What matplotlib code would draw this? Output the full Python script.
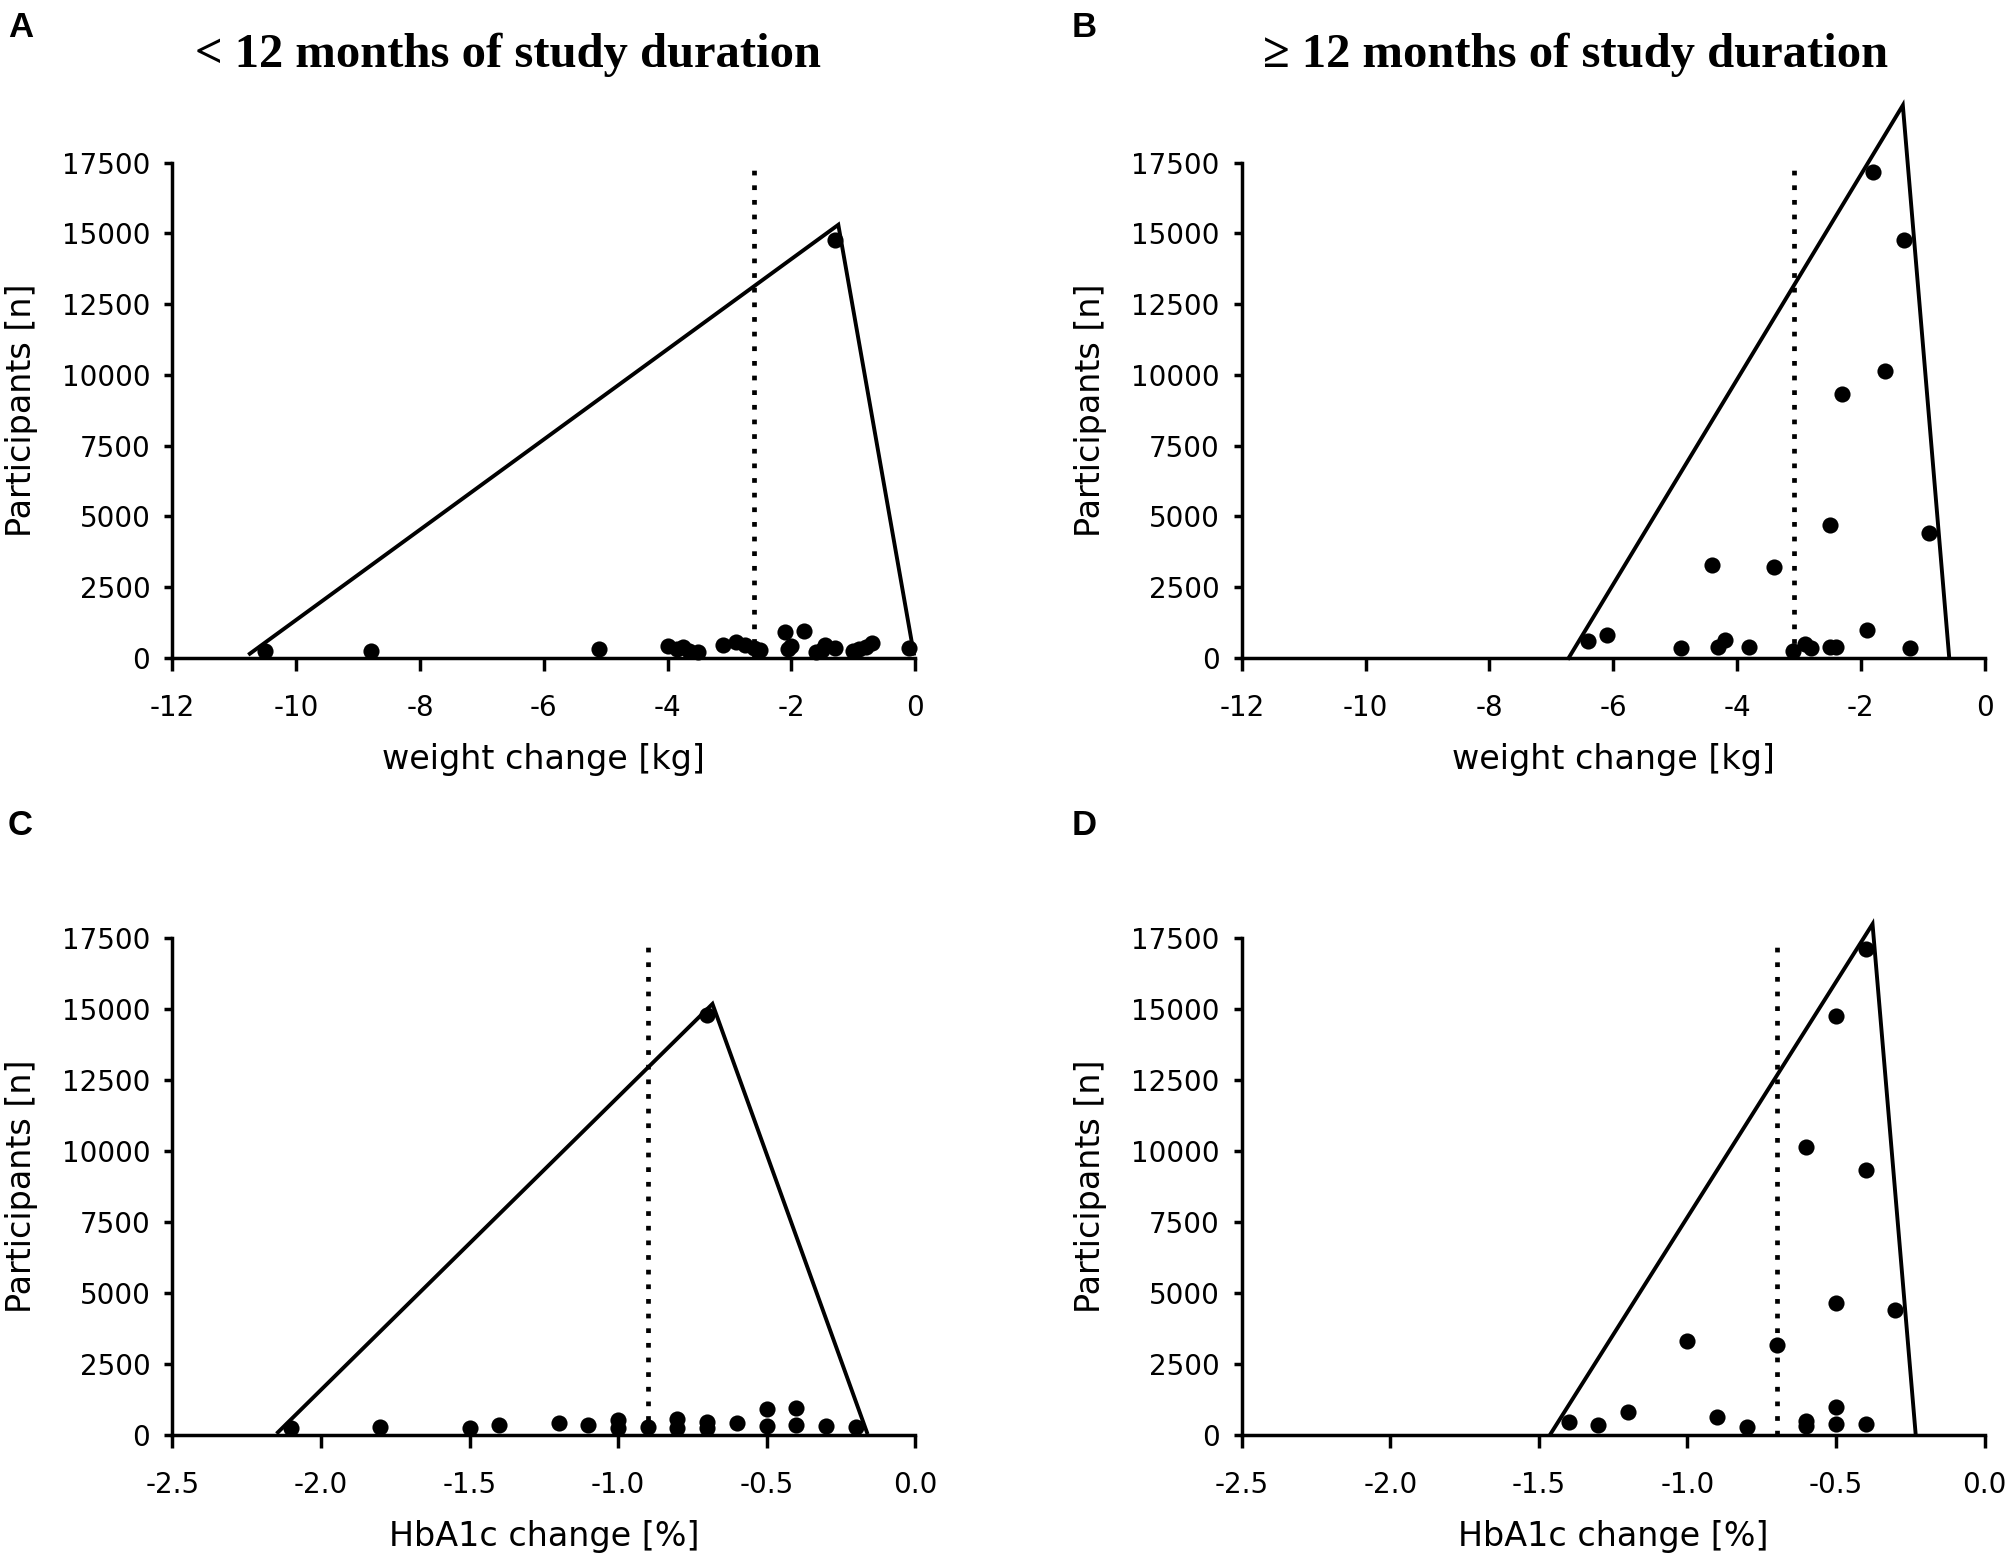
import matplotlib
matplotlib.use('Agg')
import matplotlib.pyplot as plt

# ---------------- data ----------------
# Panel A: weight change, < 12 months
xA = [-10.5, -8.8, -5.1, -4.0, -3.85, -3.75, -3.65, -3.5, -3.1, -2.9, -2.75, -2.6, -2.5,
      -2.1, -2.05, -2.0, -1.8, -1.6, -1.5, -1.45, -1.3, -1.3, -1.0, -0.9, -0.8, -0.7, -0.1]
yA = [250, 250, 300, 420, 300, 380, 250, 220, 450, 550, 450, 350, 280,
      900, 300, 420, 950, 220, 280, 450, 350, 14750, 250, 320, 400, 520, 350]
funnelA_x = [-10.75, -1.24, -0.02]
funnelA_y = [150, 15300, 150]
meanA = -2.6

# Panel B: weight change, >= 12 months
xB = [-1.8, -1.3, -1.6, -2.3, -2.5, -0.9, -4.4, -3.4, -6.4, -6.1, -4.9, -4.3, -4.2, -3.8,
      -3.1, -2.9, -2.8, -2.5, -2.4, -1.9, -1.2]
yB = [17150, 14750, 10130, 9340, 4690, 4420, 3280, 3200, 610, 820, 350, 390, 650, 400,
      260, 490, 350, 390, 390, 970, 350]
funnelB_x = [-6.72, -1.32, -0.57]
funnelB_y = [0, 19520, 0]
meanB = -3.08

# Panel C: HbA1c change, < 12 months
xC = [-2.1, -1.8, -1.5, -1.4, -1.2, -1.1, -1.0, -1.0, -0.9, -0.8, -0.8, -0.7, -0.7, -0.7,
      -0.6, -0.5, -0.5, -0.4, -0.4, -0.3, -0.2]
yC = [230, 280, 250, 350, 430, 350, 530, 240, 290, 550, 240, 470, 240, 14770,
      410, 900, 320, 960, 350, 320, 290]
funnelC_x = [-2.145, -0.682, -0.162]
funnelC_y = [90, 15170, 90]
meanC = -0.9

# Panel D: HbA1c change, >= 12 months
xD = [-0.4, -0.5, -0.6, -0.4, -0.5, -0.3, -1.0, -0.7, -1.4, -1.3, -1.2, -0.9, -0.8,
      -0.6, -0.6, -0.5, -0.5, -0.4]
yD = [17110, 14730, 10130, 9340, 4640, 4410, 3310, 3170, 440, 350, 790, 620, 260,
      490, 320, 970, 370, 370]
funnelD_x = [-1.46, -0.377, -0.232]
funnelD_y = [50, 17980, 50]
meanD = -0.7

y_ticks = [0, 2500, 5000, 7500, 10000, 12500, 15000, 17500]
weight_ticks = [-12, -10, -8, -6, -4, -2, 0]
weight_ticklabels = ['-12', '-10', '-8', '-6', '-4', '-2', '0']
hba_ticks = [-2.5, -2.0, -1.5, -1.0, -0.5, 0.0]
hba_ticklabels = ['-2.5', '-2.0', '-1.5', '-1.0', '-0.5', '0.0']

# ---------------- style ----------------
plt.rcParams['axes.unicode_minus'] = False
plt.rcParams['font.family'] = ['DejaVu Sans']

fig = plt.figure(figsize=(20.08, 15.61), dpi=100)
LW_AX = 2.5
LW_FUN = 2.8


def panel(rect, xs, ys, fx, fy, mean, xlim, xticks, xticklabels, xlabel):
    ax = fig.add_axes(rect)
    ax.plot(fx, fy, color='black', lw=LW_FUN, clip_on=False, zorder=3,
            solid_joinstyle='miter')
    ax.plot([mean, mean], [0, 17500], color='black', lw=3.4,
            linestyle=(0, (1.0, 2.1)), clip_on=False, zorder=2)
    ax.scatter(xs, ys, s=135, color='black', clip_on=False, zorder=4, linewidths=0)
    ax.set_xlim(*xlim)
    ax.set_ylim(0, 17500)
    ax.set_yticks(y_ticks)
    ax.set_yticklabels([str(v) for v in y_ticks])
    ax.set_xticks(xticks)
    ax.set_xticklabels(xticklabels)
    for s in ('top', 'right'):
        ax.spines[s].set_visible(False)
    for s in ('left', 'bottom'):
        ax.spines[s].set_linewidth(LW_AX)
    ax.tick_params(axis='x', direction='out', width=LW_AX, length=9, pad=17, labelsize=20)
    ax.tick_params(axis='y', direction='out', width=LW_AX, length=6, pad=10, labelsize=20)
    ax.set_xlabel(xlabel, fontsize=24, va='center')
    ax.xaxis.set_label_coords(0.5, -0.205)
    ax.set_ylabel('Participants [n]', fontsize=24, va='center', ha='center')
    ax.yaxis.set_label_coords(-0.204, 0.5)
    return ax


panel([0.0859, 0.5785, 0.3698, 0.3174], xA, yA, funnelA_x, funnelA_y, meanA,
      (-12, 0), weight_ticks, weight_ticklabels, 'weight change [kg]')
panel([0.6185, 0.5785, 0.3698, 0.3174], xB, yB, funnelB_x, funnelB_y, meanB,
      (-12, 0), weight_ticks, weight_ticklabels, 'weight change [kg]')
panel([0.0859, 0.0808, 0.3698, 0.3185], xC, yC, funnelC_x, funnelC_y, meanC,
      (-2.5, 0), hba_ticks, hba_ticklabels, 'HbA1c change [%]')
panel([0.6185, 0.0808, 0.3698, 0.3185], xD, yD, funnelD_x, funnelD_y, meanD,
      (-2.5, 0), hba_ticks, hba_ticklabels, 'HbA1c change [%]')

title_font = dict(family=['Liberation Serif', 'DejaVu Serif'], weight='bold',
                  fontsize=35, ha='center', va='baseline')
fig.text(0.253, 0.9568, '< 12 months of study duration', **title_font)
fig.text(0.7844, 0.9568, '\u2265 12 months of study duration', **title_font)

letter_font = dict(family=['Liberation Sans', 'DejaVu Sans'], weight='bold',
                   fontsize=25, ha='left', va='baseline')
fig.text(0.004, 0.976, 'A', **letter_font)
fig.text(0.5337, 0.976, 'B', **letter_font)
fig.text(0.004, 0.4651, 'C', **letter_font)
fig.text(0.5337, 0.4651, 'D', **letter_font)

fig.savefig('out.png', dpi=100, facecolor='white')
